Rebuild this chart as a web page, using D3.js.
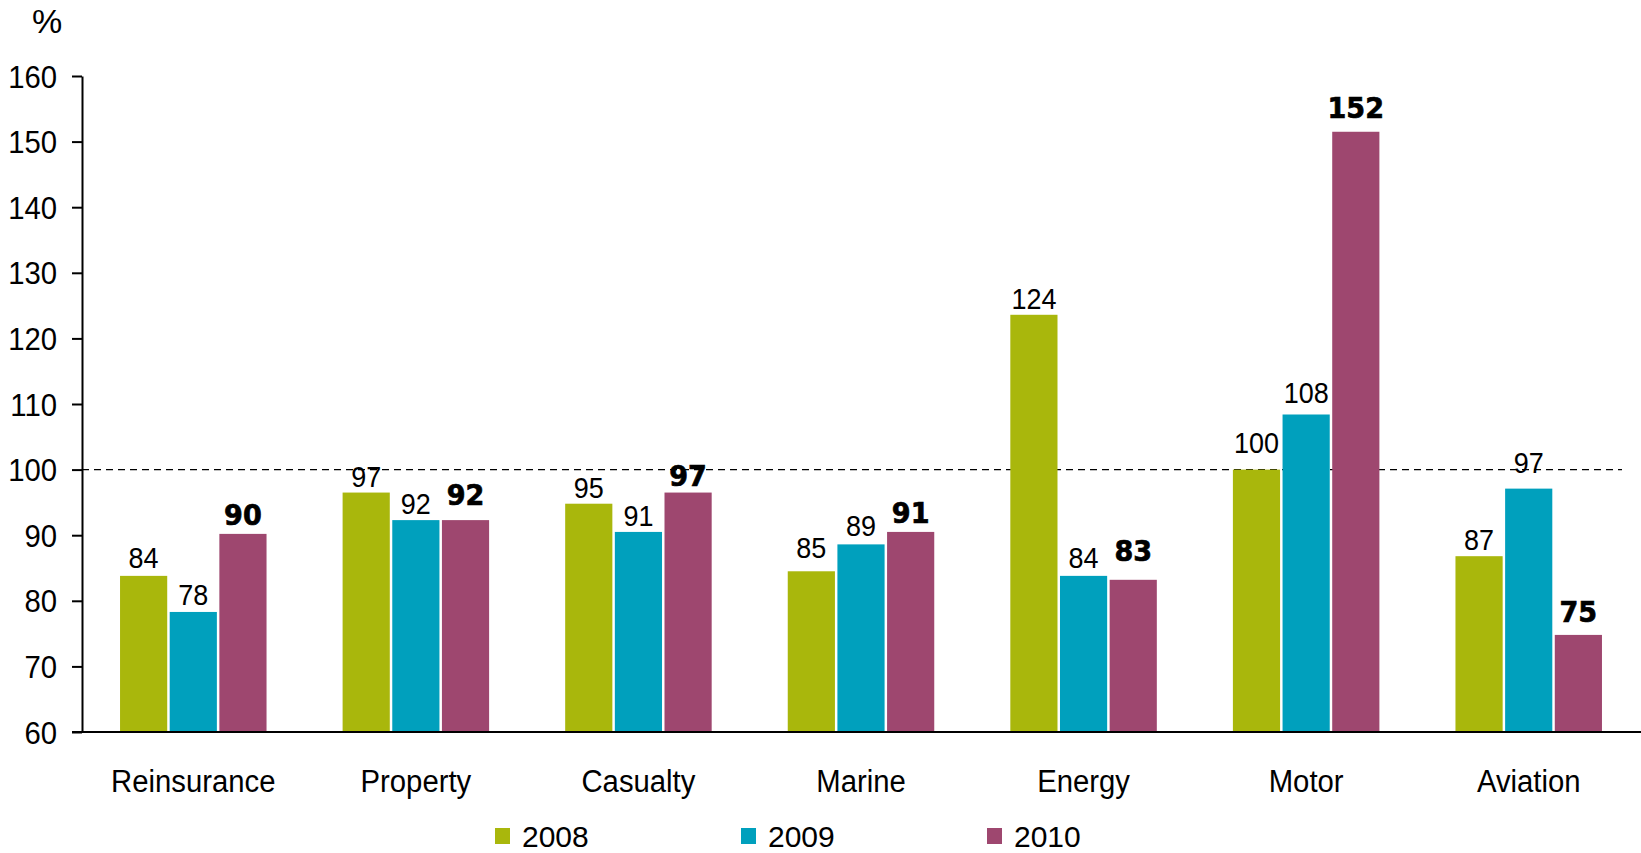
<!DOCTYPE html>
<html>
<head>
<meta charset="utf-8">
<script src="https://cdn.jsdelivr.net/npm/d3@7"></script>
<style>
  html, body { margin: 0; padding: 0; background: #fff; }
  svg { display: block; }
  text { font-family: "Liberation Sans", Arial, sans-serif; fill: #000; }
</style>
</head>
<body>
<svg id="chart" width="1641" height="853"></svg>
<script>
const categories = ["Reinsurance", "Property", "Casualty", "Marine", "Energy", "Motor", "Aviation"];
const seriesNames = ["2008", "2009", "2010"];
const colors = ["#a9b70c", "#00a0bd", "#9e476f"];
const values2008 = [83.8, 96.5, 94.8, 84.5, 123.6, 100.0, 86.8];
const values2009 = [78.3, 92.3, 90.5, 88.6, 83.8, 108.4, 97.1];
const values2010 = [90.2, 92.3, 96.5, 90.5, 83.2, 151.5, 74.8];
const yTicks = [60, 70, 80, 90, 100, 110, 120, 130, 140, 150, 160];
const referenceValue = 100;

// extra upward nudge (px) of individual value labels, as placed in the original
const labelLift2008 = [2, 0, 0, 7, 0, 11, 0];
const labelLift2009 = [1, 0, 0, 2, 2, 5, 10];
const labelLift2010 = [2, 8, 0, 2, 12, 7, 6];

const series = [values2008, values2009, values2010];
const lifts = [labelLift2008, labelLift2009, labelLift2010];

const svg = d3.select("#chart");
const mLeft = 82, mRight = 1640, mTop = 76, mBottom = 732;

function squeeze(sel, sx) {
  sel.each(function () {
    const t = d3.select(this);
    const x = +(t.attr("x") || 0);
    t.attr("x", x / sx).attr("transform", `scale(${sx},1)`);
  });
}

const y = d3.scaleLinear().domain([60, 160]).range([mBottom, mTop]);
const x0 = d3.scaleBand().domain(categories).range([mLeft, mRight]).padding(0);
const groupW = 146.5;
const x1 = d3.scaleBand().domain(seriesNames).range([0, groupW]).paddingInner(0.05);
const groupOffset = (x0.bandwidth() - groupW) / 2;

// reference dashed line
svg.append("line")
  .attr("x1", mLeft).attr("x2", 1622)
  .attr("y1", y(referenceValue)).attr("y2", y(referenceValue))
  .attr("stroke", "#000").attr("stroke-width", 1.4)
  .attr("stroke-dasharray", "7,5");

// bars
const groups = svg.append("g").selectAll("g")
  .data(categories)
  .join("g")
  .attr("transform", d => `translate(${x0(d) + groupOffset},0)`);

const cellData = (c, ci) => seriesNames.map((s, si) => ({ s, si, v: series[si][ci], lift: lifts[si][ci] }));

groups.selectAll("rect")
  .data(cellData)
  .join("rect")
  .attr("x", d => x1(d.s))
  .attr("width", x1.bandwidth())
  .attr("y", d => y(d.v))
  .attr("height", d => y(60) - y(d.v))
  .attr("fill", d => colors[d.si]);

// labels
const vlabels = groups.selectAll("text.val")
  .data(cellData)
  .join("text")
  .attr("class", "val")
  .attr("x", d => x1(d.s) + x1.bandwidth() / 2)
  .attr("y", d => y(d.v) - (d.si === 2 ? 7 : 6) - d.lift)
  .attr("text-anchor", "middle")
  .style("font-family", d => d.si === 2 ? "'DejaVu Sans', sans-serif" : "'Liberation Sans', Arial, sans-serif")
  .style("font-weight", d => d.si === 2 ? "bold" : "normal")
  .style("font-size", d => d.si === 2 ? "28.5px" : "29px")
  .style("stroke", d => d.si === 2 ? "#000" : "none")
  .style("stroke-width", d => d.si === 2 ? "0.7px" : null)
  .text(d => Math.round(d.v));
squeeze(vlabels.filter(d => d.si !== 2), 0.93);
squeeze(vlabels.filter(d => d.si === 2), 0.95);

// y axis
const yAxis = svg.append("g")
  .attr("transform", `translate(${mLeft},0)`)
  .call(d3.axisLeft(y).tickValues(yTicks).tickSize(10).tickPadding(15).tickSizeOuter(0));
yAxis.select(".domain").attr("stroke", "#000").attr("stroke-width", 2);
yAxis.selectAll(".tick line").attr("stroke", "#000").attr("stroke-width", 2);
yAxis.selectAll(".tick text")
  .style("font-size", "31px")
  .style("font-family", "'Liberation Sans', Arial, sans-serif")
  .attr("fill", "#000")
  .attr("dy", "0.36em");
squeeze(yAxis.selectAll(".tick text"), 0.945);

// x axis
const xAxis = svg.append("g")
  .attr("transform", `translate(0,${mBottom})`)
  .call(d3.axisBottom(x0).tickSize(0).tickPadding(0).tickSizeOuter(0));
xAxis.select(".domain").attr("stroke", "#000").attr("stroke-width", 2).attr("d", `M${mLeft - 10},0H1641`);
xAxis.selectAll(".tick text")
  .style("font-size", "31.5px")
  .style("font-family", "'Liberation Sans', Arial, sans-serif")
  .attr("fill", "#000")
  .attr("dy", 0)
  .attr("y", 60);
squeeze(xAxis.selectAll(".tick text"), 0.93);

// percent sign
svg.append("text")
  .attr("x", 47).attr("y", 33)
  .attr("text-anchor", "middle")
  .style("font-size", "34px")
  .text("%");

// legend
const legendX = [495, 741, 987];
const legend = svg.append("g").selectAll("g")
  .data(seriesNames)
  .join("g")
  .attr("transform", (d, i) => `translate(${legendX[i]},828)`);
legend.append("rect").attr("width", 15).attr("height", 16).attr("fill", (d, i) => colors[i]);
legend.append("text").attr("x", 27).attr("y", 19).style("font-size", "30px").text(d => d);
</script>
</body>
</html>
